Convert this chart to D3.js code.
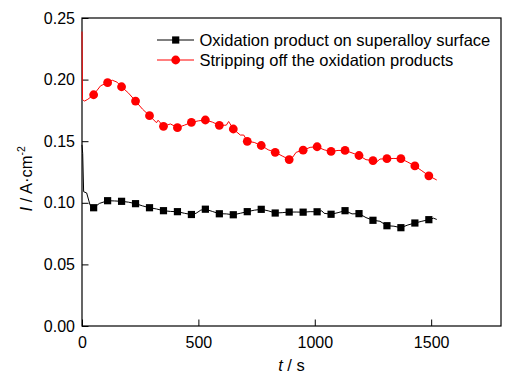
<!DOCTYPE html>
<html lang="en">
  <head>
    <meta charset="UTF-8" />
    <title>Current vs time</title>
    <style>
      body { margin: 0; background: #fff; }
      svg { display: block; font-family: "Liberation Sans", Arial, sans-serif; }
    </style>
  </head>
  <body>
    <svg width="532" height="381"></svg>

    <script src="https://d3js.org/d3.v7.min.js"></script>
    <script>
      // marker times (s) shared by both series
      const markerT = [50, 110, 170, 230, 290, 350, 410, 470, 530, 590, 650, 710, 770,
        830, 890, 950, 1010, 1070, 1130, 1190, 1250, 1310, 1370, 1430, 1490];

      // black: oxidation product on superalloy surface
      const blackMarkI = [0.0960, 0.1017, 0.1012, 0.0993, 0.0960, 0.0936, 0.0928, 0.0905,
        0.0948, 0.0911, 0.0903, 0.0928, 0.0947, 0.0917, 0.0925, 0.0924, 0.0927, 0.0907,
        0.0936, 0.0912, 0.0858, 0.0814, 0.0798, 0.0836, 0.0863];

      // red: stripping off the oxidation products
      const redMarkI = [0.1877, 0.1975, 0.1942, 0.1826, 0.1707, 0.1621, 0.1610, 0.1653,
        0.1672, 0.1629, 0.1599, 0.1499, 0.1465, 0.1410, 0.1351, 0.1427, 0.1455, 0.1417,
        0.1425, 0.1384, 0.1343, 0.1358, 0.1358, 0.1299, 0.1219];

      // the raw curves under the markers
      const blackLineT = [0, 3, 7, 20, 35, 50, 75, 110, 140, 170, 200, 230, 260, 290, 320,
        350, 380, 410, 440, 470, 490, 510, 530, 560, 590, 620, 650, 680, 710, 740, 770, 800,
        830, 860, 890, 920, 950, 980, 1010, 1030, 1040, 1070, 1100, 1130, 1160, 1190, 1220,
        1250, 1280, 1310, 1340, 1370, 1400, 1430, 1460, 1490, 1510, 1524];
      const blackLineI = [0.147, 0.140, 0.109, 0.108, 0.098, 0.096, 0.0995, 0.1017, 0.1015,
        0.1012, 0.1005, 0.0993, 0.0975, 0.096, 0.095, 0.0936, 0.093, 0.0928, 0.0915, 0.0905,
        0.0915, 0.094, 0.0948, 0.093, 0.0911, 0.091, 0.0903, 0.0915, 0.0928, 0.094, 0.0947,
        0.0935, 0.0917, 0.092, 0.0925, 0.0925, 0.0924, 0.0928, 0.0927, 0.0935, 0.0915,
        0.0907, 0.092, 0.0936, 0.091, 0.0912, 0.088, 0.0858, 0.085, 0.0814, 0.081, 0.0798,
        0.082, 0.0836, 0.085, 0.0863, 0.0875, 0.0865];

      const redLineT = [0, 2, 10, 25, 50, 80, 110, 130, 150, 170, 200, 230, 260, 290, 320,
        327, 350, 380, 410, 440, 470, 500, 530, 560, 590, 620, 630, 650, 680, 695, 710, 740,
        770, 800, 830, 860, 890, 905, 920, 950, 980, 1010, 1040, 1070, 1100, 1130, 1160, 1190,
        1220, 1250, 1265, 1280, 1310, 1340, 1370, 1400, 1430, 1460, 1490, 1524];
      const redLineI = [0.239, 0.184, 0.1825, 0.184, 0.1877, 0.195, 0.1975, 0.1995, 0.198,
        0.1942, 0.189, 0.1826, 0.176, 0.1707, 0.1650, 0.167, 0.1621, 0.164, 0.161, 0.163,
        0.1653, 0.1665, 0.1672, 0.1655, 0.1629, 0.163, 0.166, 0.1599, 0.155, 0.155, 0.1499,
        0.149, 0.1465, 0.143, 0.141, 0.138, 0.1351, 0.137, 0.141, 0.1427, 0.145, 0.1455,
        0.143, 0.1417, 0.1425, 0.1425, 0.1405, 0.1384, 0.135, 0.1343, 0.133, 0.1355, 0.1358,
        0.136, 0.1358, 0.133, 0.1299, 0.126, 0.1219, 0.1185];

      const xTicks = [0, 500, 1000, 1500];
      const yTicks = [0, 0.05, 0.1, 0.15, 0.2, 0.25];
      const legendLabels = ["Oxidation product on superalloy surface", "Stripping off the oxidation products"];

      const margin = { top: 18, right: 31, bottom: 55, left: 82 };
      const width = 532 - margin.left - margin.right;
      const height = 381 - margin.top - margin.bottom;

      const svg = d3.select("svg");
      const g = svg.append("g").attr("transform", `translate(${margin.left},${margin.top})`);

      const x = d3.scaleLinear().domain([0, 1800]).range([0, width]);
      const y = d3.scaleLinear().domain([0, 0.25]).range([height, 0]);

      // axes, ticks pointing inward
      const xAxis = g.append("g")
        .attr("transform", `translate(0,${height})`)
        .call(d3.axisBottom(x).tickValues(xTicks).tickFormat(d3.format("d"))
          .tickSizeInner(-6.5).tickSizeOuter(0).tickPadding(11));
      const yAxis = g.append("g")
        .call(d3.axisLeft(y).tickValues(yTicks).tickFormat(d3.format(".2f"))
          .tickSizeInner(-6.5).tickSizeOuter(0).tickPadding(7));

      [xAxis, yAxis].forEach((a) => {
        a.select(".domain").remove();
        a.selectAll("line").attr("stroke", "#000").attr("stroke-width", 1);
        a.selectAll("text").attr("font-size", 16).attr("fill", "#000")
          .attr("font-family", "'Liberation Sans', Arial, sans-serif");
      });

      g.append("rect")
        .attr("width", width).attr("height", height)
        .attr("fill", "none").attr("stroke", "#000").attr("stroke-width", 1.2);

      const line = d3.line().x((d) => x(d[0])).y((d) => y(d[1]));

      const series = [
        { lt: blackLineT, li: blackLineI, mi: blackMarkI, color: "#000", shape: "square" },
        { lt: redLineT, li: redLineI, mi: redMarkI, color: "#ff0000", shape: "circle" },
      ];

      function drawMarker(sel, s, cx, cy) {
        if (s.shape === "square") {
          sel.append("rect").attr("x", cx - 3.6).attr("y", cy - 3.6)
            .attr("width", 7.2).attr("height", 7.2).attr("fill", s.color);
        } else {
          sel.append("circle").attr("cx", cx).attr("cy", cy).attr("r", 4.4).attr("fill", s.color);
        }
      }

      series.forEach((s) => {
        g.append("path")
          .datum(d3.zip(s.lt, s.li))
          .attr("fill", "none").attr("stroke", s.color).attr("stroke-width", 1)
          .attr("d", line);
        const mg = g.append("g");
        markerT.forEach((t, i) => drawMarker(mg, s, x(t), y(s.mi[i])));
      });

      // legend
      const legend = svg.append("g");
      series.forEach((s, i) => {
        const ly = 40 + i * 20;
        legend.append("line").attr("x1", 157).attr("x2", 194).attr("y1", ly).attr("y2", ly)
          .attr("stroke", s.color).attr("stroke-width", 1);
        drawMarker(legend, s, 175.7, ly);
        legend.append("text").attr("x", 199.5).attr("y", ly + 6)
          .attr("font-size", 16.5).text(legendLabels[i]);
      });

      // axis titles
      const xt = svg.append("text").attr("x", margin.left + width / 2).attr("y", 370.6)
        .attr("text-anchor", "middle").attr("font-size", 16.5);
      xt.append("tspan").attr("font-style", "italic").text("t");
      xt.append("tspan").text(" / s");

      const yt = svg.append("text").attr("transform", "translate(32,211.5) rotate(-90)")
        .attr("font-size", 16.5);
      yt.append("tspan").attr("font-style", "italic").text("I");
      yt.append("tspan").text(" / A·cm");
      yt.append("tspan").attr("font-size", 10.5).attr("dy", -7).text("-2");
    </script>
  </body>
</html>
